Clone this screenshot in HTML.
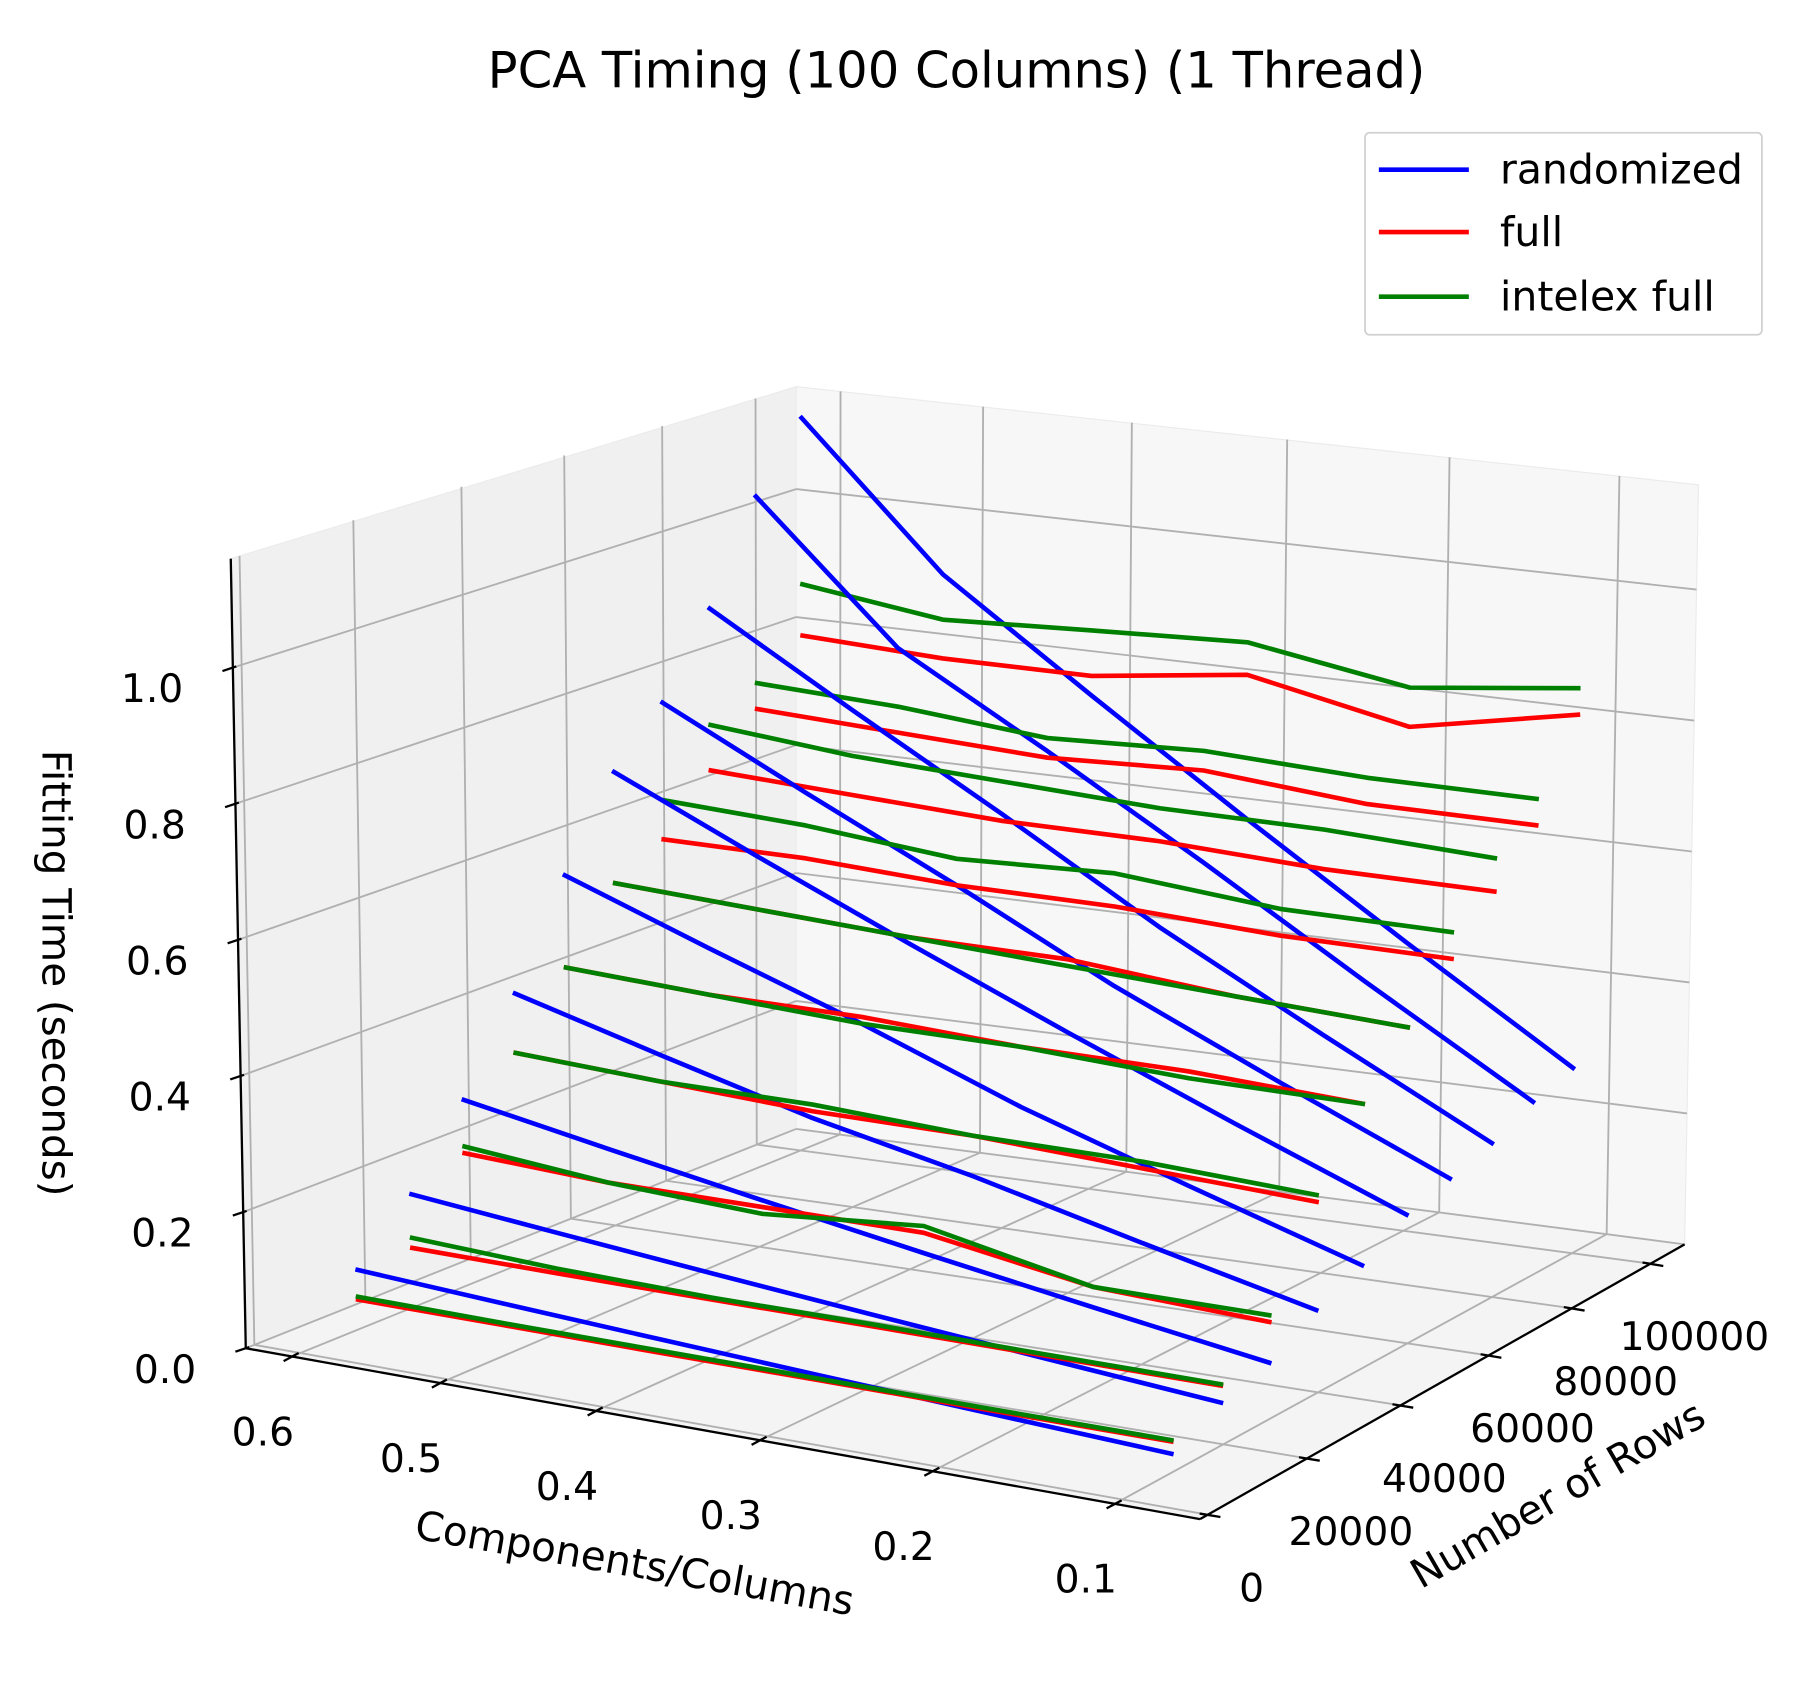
<!DOCTYPE html>
<html><head><meta charset="utf-8"><style>
html,body{margin:0;padding:0;background:#fff;}
svg{display:block;}
text{font-family:"DejaVu Sans","Liberation Sans",sans-serif;fill:#000;}
</style></head><body>
<svg id="chart" width="1800" height="1698" viewBox="0 0 1560 1471" preserveAspectRatio="none" xmlns="http://www.w3.org/2000/svg">
<text x="829" y="76" font-size="43" text-anchor="middle">PCA Timing (100 Columns) (1 Thread)</text>
<g id="panes"></g><g id="grid"></g><g id="axes"></g><g id="series"></g>
<text transform="translate(548,1366) rotate(10)" font-size="35" text-anchor="middle">Components/Columns</text>
<text transform="translate(1356,1305) rotate(-30)" font-size="35" text-anchor="middle">Number of Rows</text>
<text transform="translate(37,843) rotate(90)" font-size="35" text-anchor="middle">Fitting Time (seconds)</text>
<g>
<rect x="1183" y="115" width="344" height="175" rx="4" fill="#fff" stroke="#d0d0d0" stroke-width="1.5"/>
<line x1="1195" y1="147" x2="1273" y2="147" stroke="#0000ff" stroke-width="4"/>
<text x="1300" y="159" font-size="35.5">randomized</text>
<line x1="1195" y1="201" x2="1273" y2="201" stroke="#ff0000" stroke-width="4"/>
<text x="1300" y="213" font-size="35.5">full</text>
<line x1="1195" y1="257" x2="1273" y2="257" stroke="#008000" stroke-width="4"/>
<text x="1300" y="269" font-size="35.5">intelex full</text>
</g>
</svg>
<script>
const rowsCats = [10000,20000,30000,40000,50000,60000,70000,80000,90000,100000];
const compCats = [0.6,0.5,0.4,0.3,0.2,0.1];
const randomizedVals = [
[0.09,0.077,0.064,0.051,0.038,0.025],
[0.17,0.148,0.126,0.104,0.082,0.06],
[0.28,0.24,0.20,0.16,0.12,0.08],
[0.41,0.35,0.29,0.24,0.18,0.12],
[0.56,0.48,0.40,0.31,0.23,0.15],
[0.69,0.59,0.49,0.39,0.29,0.19],
[0.77,0.66,0.55,0.43,0.32,0.21],
[0.89,0.76,0.63,0.49,0.36,0.23],
[1.04,0.83,0.70,0.56,0.41,0.26],
[1.14,0.92,0.76,0.60,0.44,0.28]];
const fullVals = [
[0.046,0.045,0.044,0.044,0.043,0.043],
[0.09,0.088,0.087,0.087,0.086,0.085],
[0.20,0.19,0.19,0.19,0.15,0.14],
[0.32,0.31,0.30,0.30,0.29,0.28],
[0.42,0.41,0.41,0.40,0.40,0.39],
[0.52,0.51,0.50,0.50,0.48,0.47],
[0.56,0.56,0.55,0.55,0.54,0.54],
[0.64,0.63,0.62,0.62,0.61,0.61],
[0.71,0.70,0.69,0.70,0.68,0.68],
[0.80,0.79,0.79,0.82,0.77,0.82]];
const intelexVals = [
[0.05,0.048,0.047,0.046,0.045,0.045],
[0.105,0.095,0.09,0.09,0.088,0.087],
[0.21,0.19,0.18,0.20,0.15,0.15],
[0.32,0.31,0.31,0.30,0.30,0.29],
[0.42,0.41,0.40,0.40,0.39,0.39],
[0.52,0.51,0.50,0.49,0.48,0.47],
[0.62,0.61,0.59,0.60,0.58,0.58],
[0.71,0.69,0.68,0.67,0.67,0.66],
[0.75,0.74,0.72,0.73,0.72,0.72],
[0.88,0.85,0.86,0.87,0.83,0.86]];
const compTicks = [0.6,0.5,0.4,0.3,0.2,0.1];
const compTickLabels = ["0.6","0.5","0.4","0.3","0.2","0.1"];
const rowTicks = [0,20000,40000,60000,80000,100000];
const rowTickLabels = ["0","20000","40000","60000","80000","100000"];
const zTicks = [0,0.2,0.4,0.6,0.8,1.0];
const zTickLabels = ["0.0","0.2","0.4","0.6","0.8","1.0"];

const NS="http://www.w3.org/2000/svg";
const cmin=0.055,cmax=0.632,rmin=-1500,rmax=109000,zmax=1.16;
const P0=[213,1168],P1=[1040,1316],P2=[1460,1078],P3=[690,978];
const Hs=[684,699,658,643], Ts=[-13,-1,12,0];
const dx1=P1[0]-P2[0],dx2=P3[0]-P2[0],dx3=P0[0]-P1[0]+P2[0]-P3[0];
const dy1=P1[1]-P2[1],dy2=P3[1]-P2[1],dy3=P0[1]-P1[1]+P2[1]-P3[1];
const den=dx1*dy2-dx2*dy1;
const g=(dx3*dy2-dx2*dy3)/den, h=(dx1*dy3-dx3*dy1)/den;
const a=P1[0]-P0[0]+g*P1[0], b=P3[0]-P0[0]+h*P3[0], c0=P0[0];
const d=P1[1]-P0[1]+g*P1[1], e=P3[1]-P0[1]+h*P3[1], f0=P0[1];
function bil(q,u,v){return q[0]*(1-u)*(1-v)+q[1]*u*(1-v)+q[2]*u*v+q[3]*(1-u)*v;}
function proj(c,r,z){
  const u=(cmax-c)/(cmax-cmin), v=(r-rmin)/(rmax-rmin);
  const w=g*u+h*v+1;
  const X=(a*u+b*v+c0)/w, Y=(d*u+e*v+f0)/w;
  const t=z/zmax;
  return [X+t*bil(Ts,u,v), Y-t*bil(Hs,u,v)];
}
function mk(tag,parent,attrs){const el=document.createElementNS(NS,tag);for(const k in attrs)el.setAttribute(k,attrs[k]);parent.appendChild(el);return el;}
function pts(arr){return arr.map(p=>p[0].toFixed(1)+","+p[1].toFixed(1)).join(" ");}

const panes=document.getElementById('panes');
let el=mk('polygon',panes,{points:pts([proj(cmax,rmin,0),proj(cmax,rmax,0),proj(cmax,rmax,zmax),proj(cmax,rmin,zmax)]),fill:'#f0f0f0',stroke:'#ebebeb'});


el=mk('polygon',panes,{points:pts([proj(cmax,rmax,0),proj(cmin,rmax,0),proj(cmin,rmax,zmax),proj(cmax,rmax,zmax)]),fill:'#f7f7f7',stroke:'#ebebeb'});


el=mk('polygon',panes,{points:pts([proj(cmax,rmin,0),proj(cmin,rmin,0),proj(cmin,rmax,0),proj(cmax,rmax,0)]),fill:'#f4f4f4',stroke:'#ebebeb'});



const grid=document.getElementById('grid');
function gl(p,q,name){const l=mk('line',grid,{x1:p[0],y1:p[1],x2:q[0],y2:q[1],stroke:'#b0b0b0','stroke-width':1.6});

}
compTicks.forEach(c=>{gl(proj(c,rmin,0),proj(c,rmax,0),'floor-grid-comp');gl(proj(c,rmax,0),proj(c,rmax,zmax),'back-grid-comp');});
rowTicks.forEach(r=>{gl(proj(cmax,r,0),proj(cmin,r,0),'floor-grid-rows');gl(proj(cmax,r,0),proj(cmax,r,zmax),'left-grid-rows');});
zTicks.forEach(z=>{gl(proj(cmax,rmin,z),proj(cmax,rmax,z),'left-grid-z');gl(proj(cmax,rmax,z),proj(cmin,rmax,z),'back-grid-z');});

const axes=document.getElementById('axes');
function al(p,q,name,w){const l=mk('line',axes,{x1:p[0],y1:p[1],x2:q[0],y2:q[1],stroke:'#000','stroke-width':w||2});

}
function tl(x,y,s,name){const t=mk('text',axes,{x:x,y:y,'font-size':34,'text-anchor':'middle'});t.textContent=s;

}
al(proj(cmax,rmin,0),proj(cmin,rmin,0),'x-axis-line');
al(proj(cmin,rmin,0),proj(cmin,rmax,0),'y-axis-line');
al(proj(cmax,rmin,0),proj(cmax,rmin,zmax),'z-axis-line');
compTicks.forEach((c,i)=>{const p=proj(c,rmin,0);al([p[0]-7,p[1]+4],[p[0]+6,p[1]-3],'x-tick');tl(p[0]-25,p[1]+77,compTickLabels[i],'x-tick-label');});
rowTicks.forEach((r,i)=>{const p=proj(cmin,r,0);al([p[0]-7,p[1]-1],[p[0]+11,p[1]+2],'y-tick');tl(p[0]+38,p[1]+75,rowTickLabels[i],'y-tick-label');});
zTicks.forEach((z,i)=>{const p=proj(cmax,rmin,z);al([p[0]-9,p[1]+3],[p[0]+3,p[1]-1],'z-tick');tl(p[0]-70,p[1]+30,zTickLabels[i],'z-tick-label');});

const series=document.getElementById('series');
const seriesDefs=[[randomizedVals,'#0000ff','randomized'],[fullVals,'#ff0000','full'],[intelexVals,'#008000','intelex-full']];
for(let i=rowsCats.length-1;i>=0;i--){
  seriesDefs.forEach(sd=>{
    const p=compCats.map((c,j)=>proj(c,rowsCats[i],sd[0][i][j]));
    const pl=mk('polyline',series,{points:pts(p),fill:'none',stroke:sd[1],'stroke-width':4,'stroke-linejoin':'round'});
    
    
  });
}
</script>
</body></html>
